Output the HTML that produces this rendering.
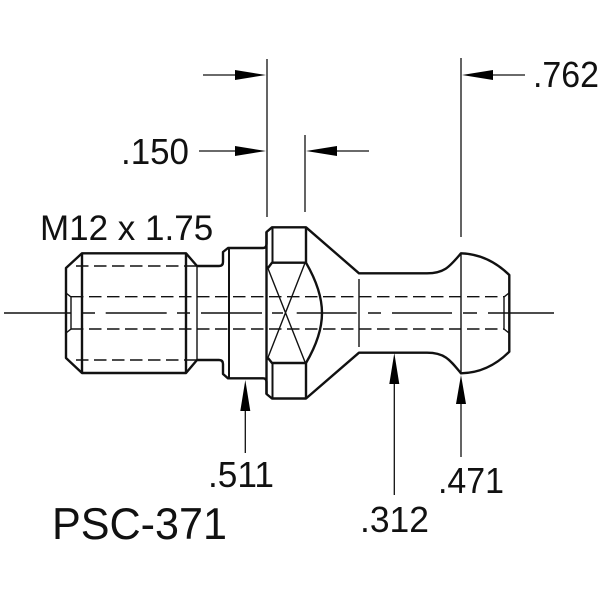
<!DOCTYPE html>
<html><head><meta charset="utf-8"><style>html,body{margin:0;padding:0;background:#fff}svg{display:block}text{font-family:"Liberation Sans",sans-serif;fill:#111}</style></head><body>
<svg width="600" height="600" viewBox="0 0 600 600" xmlns="http://www.w3.org/2000/svg">
<g fill="none" stroke="#111" stroke-width="2.400" stroke-linejoin="round">
<path d="M66 268V358L82 373H186L197 360H219Q223 360 223 364V374L228 378.300H263Q266.500 378.300 266.500 382V394L272 398.500H306L359 352.700H427C445 352.700 450 360 461 373.300C482 373 498 363 509.300 351.700V275C498 264 482 254 461 253.300C450 266 445 273.300 427 273.300H359L306 227.300H272L266.500 232V244Q266.500 248 263 248H228L223 252V262Q223 266 219 266H197L186 253.300H82Z"/>
<path d="M82 253.300V373M186 253.300V373M266.500 232V394M306 227.300V262.700M306 363V398.500M268 268L272 262.700H306C316 280 322 297 322 313C322 329 316 346 306 363H272L268 358"/>
</g>
<g fill="none" stroke="#111" stroke-width="2">
<path d="M229 248V378M272.500 227.300V262.700M272.500 363V398.500"/>
</g>
<g fill="none" stroke="#111" stroke-width="1.400">
<path d="M197 266V360M359 279V347M461 253.300V373.300M267 266L305 362M305 263L267 360"/>
<path d="M66 293L71 297V329L66 333M509 293L504 297V329L509 333"/>
<path d="M4 313H71M82 313H95M105.700 313H166.700M177 313H190M201 313H262M272 313H283M296.700 313H356.700M368 313H381M392 313H452M463 313H477M488 313H554"/>
</g>
<g fill="none" stroke="#111" stroke-width="1.400" stroke-dasharray="12.500 5.500">
<path d="M71 296.700H504M71 329H504M76 266H196M76 360H196"/>
</g>
<g fill="none" stroke="#111" stroke-width="1.300">
<path d="M267 59V217M305 135V212M461 58V237"/>
<path d="M203 75H240M199 151H240M337 151H369M493 75H525"/>
<path d="M245.300 411V453M394.300 384V495M461 404V457"/>
</g>
<g fill="#000" stroke="none">
<path d="M266 75L235 70V80ZM266 151L235 146V156ZM306 151L337 146V156ZM462 75L493 70V80Z"/>
<path d="M245.300 380L240.300 411H250.300ZM394.300 353L389.300 384H399.300ZM461 375L456 404H466Z"/>
</g>
<text x="40" y="240" font-size="35">M12 x 1.75</text>
<text x="121" y="164" font-size="36" textLength="68" lengthAdjust="spacingAndGlyphs">.150</text>
<text x="533" y="87" font-size="36" textLength="66" lengthAdjust="spacingAndGlyphs">.762</text>
<text x="208" y="487" font-size="36" textLength="66" lengthAdjust="spacingAndGlyphs">.511</text>
<text x="438" y="493" font-size="36" textLength="66" lengthAdjust="spacingAndGlyphs">.471</text>
<text x="360" y="532" font-size="36" textLength="69" lengthAdjust="spacingAndGlyphs">.312</text>
<text x="52" y="539" font-size="44.500" textLength="175" lengthAdjust="spacingAndGlyphs">PSC-371</text>
</svg>
</body></html>
